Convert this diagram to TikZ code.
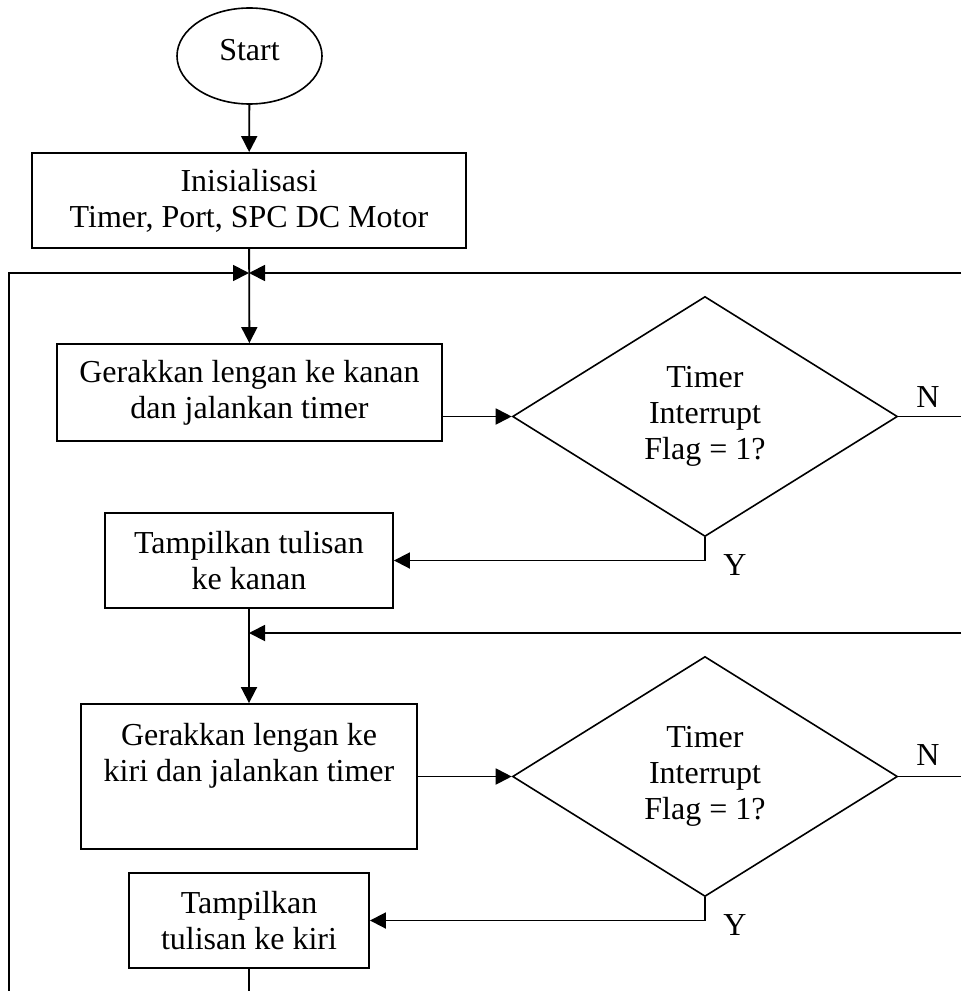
\documentclass[tikz,border=0pt]{standalone}
\usepackage{fontspec}
\setmainfont{Liberation Serif}
\usetikzlibrary{shapes.geometric,arrows.meta,calc}
\begin{document}
\begin{tikzpicture}[x=0.75pt,y=-0.75pt,
  every node/.style={font=\fontsize{24}{27}\selectfont, inner sep=0pt},
  proc/.style={draw, rectangle, line width=1.4pt, align=center},
  term/.style={draw, ellipse, line width=1.2pt},
  dec/.style={draw, diamond, aspect=1.6, line width=1.2pt, align=center,
              minimum width=288.75pt, minimum height=180pt},
  link/.style={line width=1.4pt},
  arr/.style={link, -{Triangle[length=12pt,width=12pt]}}]
\useasboundingbox (0,0) rectangle (961,991);

% nodes
\node[term, minimum width=108.75pt, minimum height=72pt,
      text height=16.2pt, text depth=9.4pt] (start) at (249.5,56) {Start};
\node[proc, minimum width=325.5pt, minimum height=71.25pt] (init) at (249,200.5)
  {Inisialisasi\\Timer, Port, SPC DC Motor};
\node[proc, minimum width=288.75pt, minimum height=72.75pt] (ger1) at (249.5,392.5)
  {Gerakkan lengan ke kanan\\dan jalankan timer};
\node[dec] (dia1) at (705,416.5) {Timer\\Interrupt\\Flag = 1?};
\node[proc, minimum width=216pt, minimum height=71.25pt] (tam1) at (249,560.5)
  {Tampilkan tulisan\\ke kanan};
\node[proc, minimum width=252pt, minimum height=108.75pt] (ger2) at (249,776.5)
  {Gerakkan lengan ke\\kiri dan jalankan timer\\[9.75pt]~};
\node[dec] (dia2) at (705,776.5) {Timer\\Interrupt\\Flag = 1?};
\node[proc, minimum width=180pt, minimum height=71.25pt] (tam2) at (249,920.5)
  {Tampilkan\\tulisan ke kiri};

% labels
\node (n1) at (928,397) {N};
\node (y1) at (735,565) {Y};
\node (n2) at (928,755) {N};
\node (y2) at (735,925) {Y};

% junctions and free ends
\coordinate (j1) at (249,273);
\coordinate (j2) at (249,633);
\coordinate (bot) at (249,991);
\coordinate (lb) at (9,991);
\coordinate (rt1) at (961,273);
\coordinate (rt2) at (961,633);

% connectors
\draw[arr] (start) -- (init);
\draw[arr] (init) -- (ger1);
\draw[arr] (ger1.east |- dia1.west) -- (dia1.west);
\draw[link] (dia1.east) -- (dia1.east -| rt1);
\draw[arr] (dia1.south) |- (tam1.east);
\draw[arr] (tam1) -- (ger2);
\draw[arr] (ger2) -- (dia2);
\draw[link] (dia2.east) -- (dia2.east -| rt2);
\draw[arr] (dia2.south) |- (tam2.east);
\draw[link] (tam2) -- (bot);
\draw[arr] (lb) |- (j1);
\draw[arr] (rt1) -- (j1);
\draw[arr] (rt2) -- (j2);
\end{tikzpicture}
\end{document}
